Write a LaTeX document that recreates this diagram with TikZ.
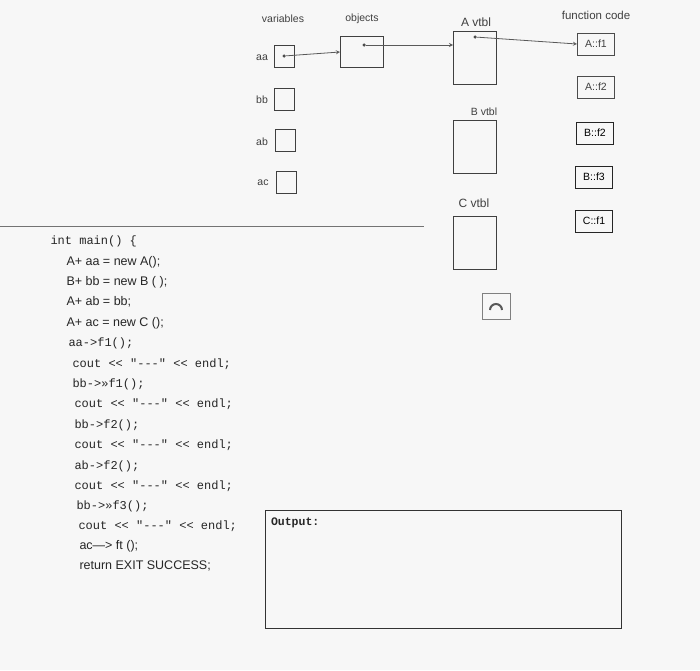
\documentclass[tikz,border=0pt]{standalone}
\usepackage{fontspec}
\setmainfont{Liberation Sans}
\setmonofont{Liberation Mono}
\begin{document}
\begin{tikzpicture}[x=1pt,y=-1pt,
  every node/.style={line width=1pt},
  lbl/.style={text=black!75,font=\fontsize{10.5}{12}\selectfont},
  var/.style={draw=black!75,minimum width=20pt,minimum height=22pt,inner sep=0pt},
  tbl/.style={draw=black!75,minimum width=43pt,minimum height=53pt,inner sep=0pt},
  fn/.style={draw=black!70,minimum width=37pt,minimum height=22pt,inner sep=0pt,text=black!75,font=\fontsize{10.5}{12}\selectfont},
  code/.style={anchor=west,text=black!85,font=\fontsize{12.5}{14}\selectfont,inner sep=0pt},
  tcode/.style={code,font=\ttfamily\fontsize{12}{14}\selectfont},
  arr/.style={draw=black!65,line width=0.8pt,->,>=stealth},
  dot/.style={circle,fill=black!70,inner sep=0pt,minimum size=3.5pt}]
\useasboundingbox (0,0) rectangle (700,670);
\fill[black!3] (0,0) rectangle (700,670);
% headers
\node[lbl] (hv) at (283,19) {variables};
\node[lbl] (ho) at (362,19) {objects};
\node[lbl,font=\fontsize{12}{14}\selectfont] (ha) at (476,22) {A vtbl};
\node[lbl,font=\fontsize{11.5}{13}\selectfont] (hf) at (596,15) {function code};
% variables
\node[lbl] (laa) at (262,58) {aa};
\node[var] (aa) at (284,56) {};
\node[lbl] (lbb) at (262,100) {bb};
\node[var] (bb) at (284,99) {};
\node[lbl] (lab) at (262,142) {ab};
\node[var] (ab) at (285,140) {};
\node[lbl] (lac) at (263,183) {ac};
\node[var] (ac) at (286,182) {};
% object
\node[draw=black!75,minimum width=43pt,minimum height=31pt,inner sep=0pt] (obj) at (362,52) {};
% vtbls
\node[tbl] (av) at (475,58) {};
\node[lbl] (hb) at (484,112) {B vtbl};
\node[tbl] (bv) at (475,147) {};
\node[lbl,font=\fontsize{12}{14}\selectfont] (hc) at (474,203) {C vtbl};
\node[tbl] (cv) at (475,243) {};
% functions
\node[fn] (af1) at (596,44) {A::f1};
\node[fn] (af2) at (596,87) {A::f2};
\node[fn,draw=black!85,text=black] (bf2) at (595,133) {B::f2};
\node[fn,draw=black!85,text=black] (bf3) at (594,177) {B::f3};
\node[fn,draw=black!85,text=black] (cf1) at (594,221) {C::f1};
% pointers
\node[dot] (d1) at (284,56) {};
\node[dot] (d2) at (364,45) {};
\node[dot] (d3) at (475,37) {};
\draw[arr] (d1) -- (obj.west);
\draw[arr] (d2) -- (av.west |- d2);
\draw[arr] (d3) -- (af1.west);
% separator
\coordinate (s1) at (0,226);
\coordinate (s2) at (424,226);
\draw[black!55,line width=0.8pt] (s1) -- (s2);
% icon
\node[draw=black!50,minimum width=28pt,minimum height=26pt,inner sep=0pt] (icon) at (496,306) {};
\draw[black!65,line width=2pt] ([shift={(-6,4)}]icon.center) arc[start angle=180,end angle=360,radius=6];
% code
\node[tcode] (c0) at (50,241) {int main() \{};
\node[code] (c1) at (66,262) {A+ aa = new A();};
\node[code] (c2) at (66,282) {B+ bb = new B ( );};
\node[code] (c3) at (66,302) {A+ ab = bb;};
\node[code] (c4) at (66,323) {A+ ac = new C ();};
\node[tcode] (c5) at (68,343) {aa->f1();};
\node[tcode] (c6) at (72,364) {cout << "---" << endl;};
\node[tcode] (c7) at (72,384) {bb->»f1();};
\node[tcode] (c8) at (74,404) {cout << "---" << endl;};
\node[tcode] (c9) at (74,425) {bb->f2();};
\node[tcode] (c10) at (74,445) {cout << "---" << endl;};
\node[tcode] (c11) at (74,466) {ab->f2();};
\node[tcode] (c12) at (74,486) {cout << "---" << endl;};
\node[tcode] (c13) at (76,506) {bb->»f3();};
\node[tcode] (c14) at (78,526) {cout << "---" << endl;};
\node[code] (c15) at (79,546) {ac—> ft ();};
\node[code] (c16) at (79,566) {return EXIT SUCCESS;};
% output
\node[draw=black!80,minimum width=356pt,minimum height=118pt,inner sep=0pt] (out) at (443,569) {};
\node[tcode,anchor=north west,font=\ttfamily\bfseries\fontsize{11.5}{13}\selectfont] (outl) at ([shift={(6,8)}]out.north west) {Output:};
\end{tikzpicture}
\end{document}
